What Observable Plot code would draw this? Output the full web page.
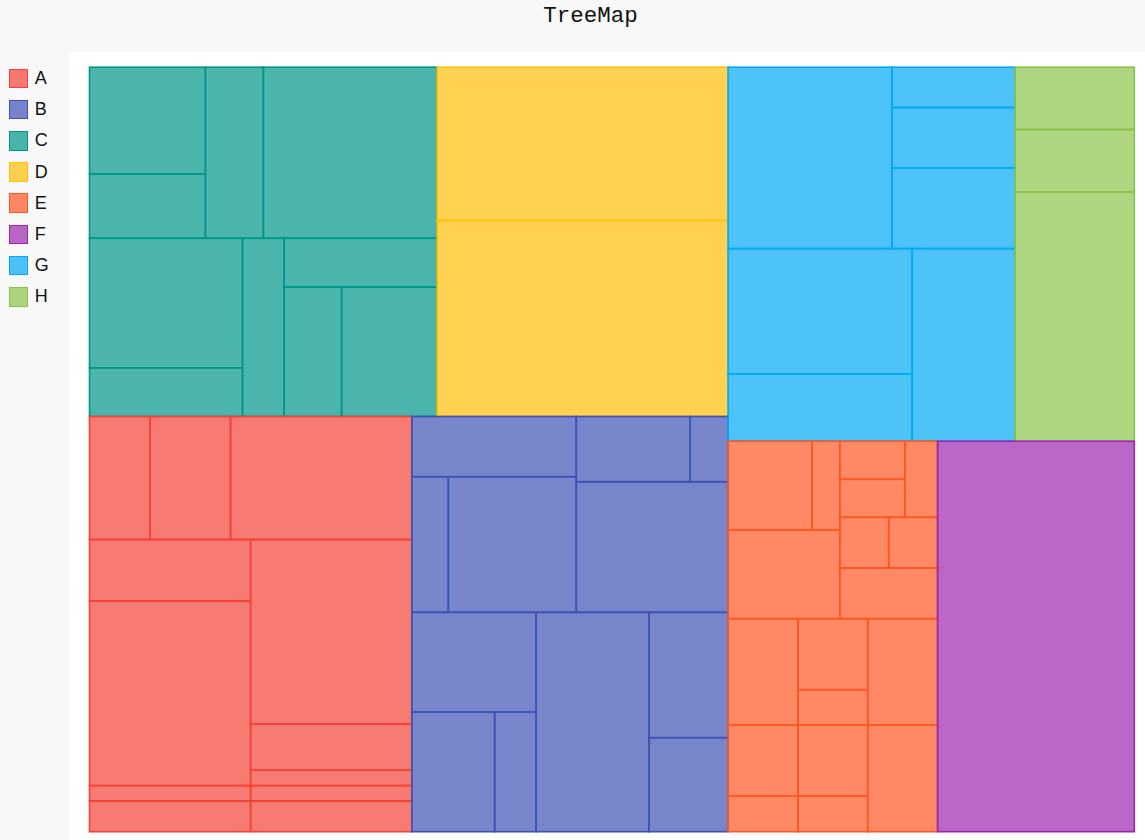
<!DOCTYPE html>
<html>
<head>
<meta charset="utf-8">
<script src="https://cdn.jsdelivr.net/npm/d3@7"></script>
<script src="https://cdn.jsdelivr.net/npm/@observablehq/plot@0.6"></script>
<style>
  html, body { margin: 0; padding: 0; background: #f8f8f8; width: 1145px; height: 840px; overflow: hidden; }
  #title { position: absolute; left: 0; top: 5px; width: 1181px; text-align: center;
           font-family: "Liberation Mono", "DejaVu Sans Mono", monospace; font-size: 22.5px; line-height: 22px; color: #111; }
  #legend { position: absolute; left: 8.7px; top: 68.5px; font-family: "Liberation Sans", Arial, sans-serif;
            font-size: 18px; color: #111; }
  .item { display: flex; align-items: center; height: 20px; margin-bottom: 11.2px; }
  .sw { box-sizing: border-box; width: 19.6px; height: 19.6px; border: 1.5px solid; margin-right: 6.4px; }
  #chart { position: absolute; left: 69px; top: 52px; }
</style>
</head>
<body>
<div id="title">TreeMap</div>
<div id="legend"></div>
<div id="chart"></div>
<script>
// Top-level categories and their colours
const categories = ["A", "B", "C", "D", "E", "F", "G", "H"];
const palette = ["#f44336", "#3f51b5", "#009688", "#ffc107", "#ff5722", "#9c27b0", "#03a9f4", "#8bc34a"];
// Where each category sits in the upper levels of the tree
const groupBlock = ["L/AB", "L/AB", "L/CD", "L/CD", "R/EF", "R/EF", "R/GH", "R/GH"];

// Leaves: category, branch inside the category, value
const leafGroup = [
  "C","C","C","C","C","C","C","C","C","C",
  "D","D",
  "A","A","A","A","A","A","A","A","A","A","A","A",
  "B","B","B","B","B","B","B","B","B","B","B","B",
  "G","G","G","G","G","G","G",
  "H","H","H",
  "E","E","E","E","E","E","E","E","E","E","E","E","E","E","E","E","E","E",
  "F"
];
const leafSlot = [
  "0/0/0","0/0/1","0/1","0/2","1/0/0","1/0/1","1/1","1/2/0","1/2/1/0","1/2/1/1",
  "0","1",
  "0/0","0/1","0/2","1/0/0","1/0/1","1/0/2","1/0/3","1/1/0","1/1/1","1/1/2","1/1/3","1/1/4",
  "0/0/0","0/0/1/0","0/0/1/1","0/1/0/0","0/1/0/1","0/1/1","1/0/0","1/0/1/0","1/0/1/1","1/1","1/2/0","1/2/1",
  "0/0","0/1/0","0/1/1","0/1/2","1/0/0","1/0/1","1/1",
  "0","1","2",
  "0/0/0/0","0/0/0/1","0/0/1","0/1/0/0/0","0/1/0/0/1","0/1/0/1","0/1/1/0","0/1/1/1","0/1/2",
  "1/0/0","1/0/1/0","1/0/1/1","1/0/2","1/1/0/0","1/1/0/1","1/1/1/0","1/1/1/1","1/1/2",
  ""
];
const leafValue = [
  5, 3, 4, 12, 8, 3, 3, 3, 3, 5,
  18, 23,
  3, 4, 9, 4, 12, 1, 2, 12, 3, 1, 1, 2,
  4, 2, 7, 3, 1, 8, 5, 4, 2, 10, 4, 3,
  12, 2, 3, 4, 9.3, 5, 8,
  3, 3, 12,
  3, 1, 4, 1, 1, 1, 1, 1, 2, 3, 2, 1, 3, 2, 1, 2, 1, 3,
  31
];

// ---- build hierarchy ----
const rows = new Map();
rows.set("root", {id: "root", parentId: null, value: 0});
leafGroup.forEach((g, i) => {
  const parts = [...groupBlock[categories.indexOf(g)].split("/"), g, ...(leafSlot[i] ? leafSlot[i].split("/") : [])];
  let id = "root", parent = "root";
  parts.forEach(p => {
    id = id + "/" + p;
    if (!rows.has(id)) rows.set(id, {id, parentId: parent, value: 0, leaf: false, group: g});
    parent = id;
  });
  const r = rows.get(id);
  r.value = leafValue[i];
  r.leaf = true;
});
const root = d3.stratify().id(d => d.id).parentId(d => d.parentId)([...rows.values()])
  .sum(d => d.leaf ? d.value : 0);

const W = 1044.8, H = 764.5;
const ML = 20.5, MT = 15.2, PW = 1076, PH = 788;
const tile = (node, x0, y0, x1, y1) =>
  (x1 - x0 >= y1 - y0 ? d3.treemapDice : d3.treemapSlice)(node, x0, y0, x1, y1);
d3.treemap().tile(tile).size([W, H]).round(false)(root);

const cells = root.leaves().map(n => ({group: n.data.group, left: n.x0, right: n.x1, top: n.y0, bottom: n.y1, value: n.value}));

const chart = Plot.plot({
  width: PW, height: PH,
  marginLeft: ML, marginTop: MT, marginRight: PW - ML - W, marginBottom: PH - MT - H,
  x: {domain: [0, W], range: [ML, ML + W], axis: null},
  y: {domain: [0, H], range: [MT, MT + H], axis: null},
  color: {domain: categories, range: palette},
  style: {background: "white", overflow: "visible"},
  marks: [
    Plot.rect(cells, {x1: "left", x2: "right", y1: "top", y2: "bottom", fill: "group", fillOpacity: 0.7,
                      stroke: "group", strokeWidth: 1.6})
  ]
});
document.getElementById("chart").appendChild(chart);

// ---- legend ----
const legend = document.getElementById("legend");
categories.forEach((c, i) => {
  const item = document.createElement("div");
  item.className = "item";
  const sw = document.createElement("div");
  sw.className = "sw";
  const col = d3.color(palette[i]);
  sw.style.borderColor = palette[i];
  col.opacity = 0.7;
  sw.style.background = col.toString();
  const lab = document.createElement("span");
  lab.textContent = c;
  item.appendChild(sw);
  item.appendChild(lab);
  legend.appendChild(item);
});
</script>
</body>
</html>
